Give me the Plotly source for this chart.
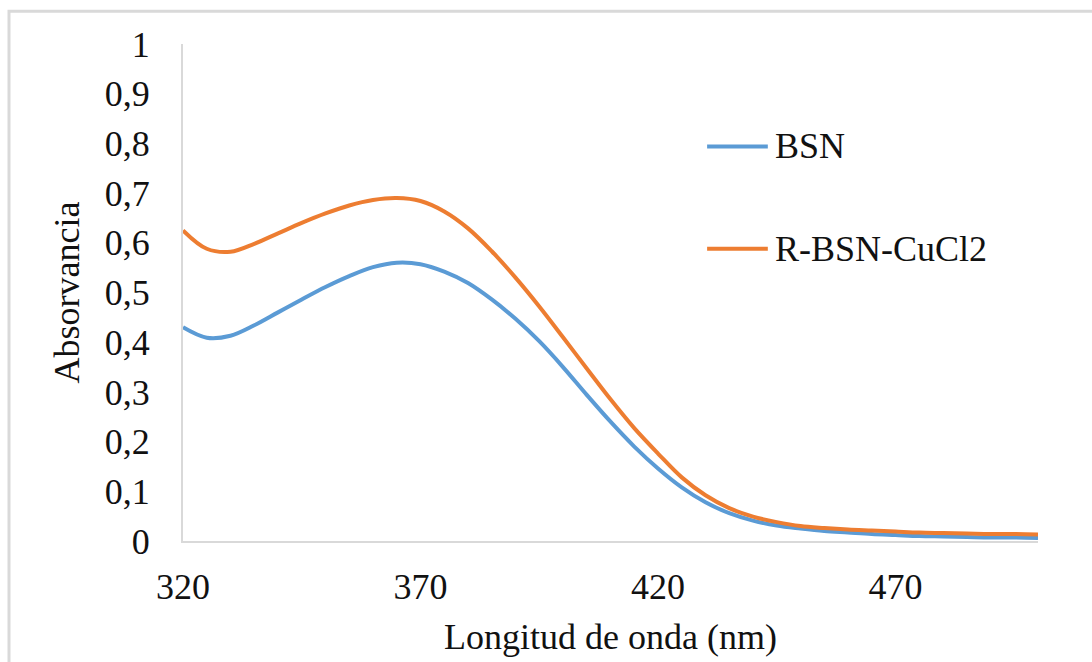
import plotly.graph_objects as go

# Wavelength grid (nm) and absorbance readings for each sample
wavelength = [320, 325, 330, 335, 340, 345, 350, 355, 360, 365, 370, 375, 380,
              385, 390, 395, 400, 405, 410, 415, 420, 425, 430, 435, 440, 445,
              450, 455, 460, 465, 470, 475, 480, 485, 490, 495, 500]

bsn = [0.430, 0.409, 0.413, 0.434, 0.460, 0.486, 0.511, 0.533, 0.551, 0.560,
       0.557, 0.542, 0.519, 0.486, 0.447, 0.402, 0.350, 0.294, 0.240, 0.190,
       0.146, 0.108, 0.078, 0.056, 0.041, 0.031, 0.025, 0.020, 0.017, 0.014,
       0.012, 0.010, 0.009, 0.008, 0.007, 0.007, 0.006]

r_bsn_cucl2 = [0.625, 0.588, 0.582, 0.598, 0.619, 0.640, 0.659, 0.675, 0.686,
               0.690, 0.684, 0.663, 0.629, 0.583, 0.530, 0.472, 0.410, 0.347,
               0.285, 0.227, 0.176, 0.128, 0.092, 0.066, 0.049, 0.038, 0.030,
               0.026, 0.023, 0.021, 0.019, 0.017, 0.016, 0.015, 0.014, 0.014,
               0.013]

series_names = ["BSN", "R-BSN-CuCl2"]
series_colors = ["#5B9BD5", "#ED7D31"]

x_ticks = [320, 370, 420, 470]
y_ticks = [0, 0.1, 0.2, 0.3, 0.4, 0.5, 0.6, 0.7, 0.8, 0.9, 1]
y_tick_labels = ["0", "0,1", "0,2", "0,3", "0,4", "0,5", "0,6", "0,7", "0,8", "0,9", "1"]

FONT = "'Liberation Serif', 'Times New Roman', Times, serif"
TEXT_COLOR = "#111111"
FS = 36

fig = go.Figure()
for name, values, color in zip(series_names, [bsn, r_bsn_cucl2], series_colors):
    fig.add_trace(go.Scatter(
        x=wavelength, y=values, name=name, mode="lines",
        line=dict(color=color, width=4, shape="spline", smoothing=1.0),
        showlegend=False,
    ))

# Legend drawn as line swatches with labels to the right
legend_y = [0.794, 0.588]
for name, color, ly in zip(series_names, series_colors, legend_y):
    fig.add_shape(type="line", xref="paper", yref="paper",
                  x0=0.613, x1=0.684, y0=ly, y1=ly,
                  line=dict(color=color, width=4))
    fig.add_annotation(xref="paper", yref="paper", x=0.690, y=ly,
                       text=name, showarrow=False, xanchor="left", yanchor="middle",
                       font=dict(family=FONT, size=FS, color=TEXT_COLOR))

# Outer chart frame
fig.add_shape(type="rect", xref="paper", yref="paper",
              x0=-0.2035, x1=1.25, y0=-0.30, y1=1.066,
              line=dict(color="#d9d9d9", width=3), layer="below")

fig.update_layout(
    width=1092, height=662, autosize=False,
    margin=dict(l=183, r=54, t=44, b=118),
    paper_bgcolor="white", plot_bgcolor="white",
    font=dict(family=FONT, size=FS, color=TEXT_COLOR),
)

fig.update_xaxes(
    range=[320, 500], tickvals=x_ticks, ticktext=[str(v) for v in x_ticks],
    showgrid=False, zeroline=False, showline=True,
    linecolor="#d9d9d9", linewidth=2, ticks="",
    ticklabelstandoff=13,
    title=dict(text="Longitud de onda (nm)", standoff=18,
               font=dict(family=FONT, size=FS, color=TEXT_COLOR)),
    tickfont=dict(family=FONT, size=FS, color=TEXT_COLOR),
)

fig.update_yaxes(
    range=[0, 1], tickvals=y_ticks, ticktext=y_tick_labels,
    showgrid=False, zeroline=False, showline=True,
    linecolor="#d9d9d9", linewidth=2, ticks="",
    ticklabelstandoff=24,
    title=dict(text="Absorvancia", standoff=14,
               font=dict(family=FONT, size=FS, color=TEXT_COLOR)),
    tickfont=dict(family=FONT, size=FS, color=TEXT_COLOR),
)

fig.write_html("out.html")
